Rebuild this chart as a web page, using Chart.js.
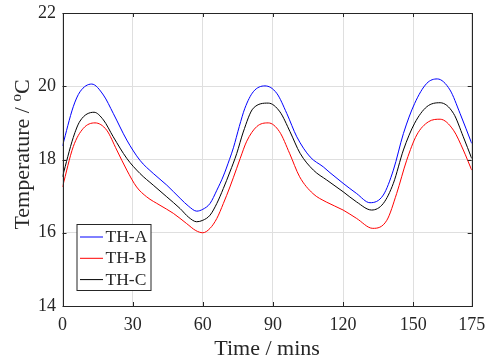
<!DOCTYPE html>
<html>
<head>
<meta charset="utf-8">
<script src="https://cdn.jsdelivr.net/npm/chart.js@4.4.0/dist/chart.umd.min.js"></script>
<style>
  html, body { margin: 0; padding: 0; background: #fff; }
</style>
</head>
<body>
<canvas id="chart" width="486" height="362"></canvas>
<script>
// time (mins) and temperature (degC)
const timeA = [0, 4.6, 7.5, 12.5, 17.5, 21.7, 27.5, 33.1, 38.8, 44.6, 50.3, 54, 57.4, 60, 63.1, 66, 68.8, 71.4, 73.1, 75.6, 78, 81.6, 86.6, 91.6, 95.9, 100.2, 105.9, 111.5, 114.4, 120, 125.8, 131.5, 137.2, 141.5, 145.8, 150.6, 155.8, 160.3, 165.7, 170, 175];
const tempA = [18.37, 19.44, 19.85, 20.06, 19.76, 19.26, 18.53, 17.98, 17.62, 17.30, 16.94, 16.72, 16.59, 16.64, 16.80, 17.16, 17.55, 18.0, 18.32, 18.9, 19.4, 19.85, 20.01, 19.81, 19.26, 18.62, 18.07, 17.80, 17.64, 17.35, 17.07, 16.82, 17.03, 17.71, 18.71, 19.53, 20.08, 20.20, 19.90, 19.26, 18.44];

const timeB = [0, 4.6, 8.9, 13.9, 18.9, 23.2, 27.5, 31.7, 36, 41.7, 47.4, 53.1, 57, 60, 63.1, 66, 68.8, 71.6, 74.5, 76, 78.8, 83.1, 88, 92.8, 97.1, 101.4, 107.1, 112.8, 120, 125.8, 132.7, 138.7, 142.9, 147.2, 151.5, 156.5, 161.5, 167.2, 171.4, 175];
const tempB = [17.25, 18.35, 18.85, 19.0, 18.8, 18.26, 17.71, 17.25, 16.98, 16.75, 16.53, 16.25, 16.06, 16.0, 16.12, 16.39, 16.80, 17.25, 17.76, 18.03, 18.5, 18.9, 19.0, 18.76, 18.17, 17.53, 17.07, 16.84, 16.62, 16.39, 16.12, 16.34, 17.07, 17.98, 18.67, 19.03, 19.1, 18.8, 18.26, 17.71];

const timeC = [0, 4.6, 7.5, 13.5, 17.5, 21.7, 27.5, 33.1, 38.8, 44.6, 50.3, 54, 57.4, 60, 63.1, 66, 68.8, 71.6, 74.5, 77.3, 81.6, 88, 93, 97.3, 101.6, 107.3, 113, 120, 125.8, 132.2, 137.2, 141.5, 145.8, 150.6, 155.8, 161.5, 167.2, 171.4, 175];
const tempC = [17.53, 18.6, 19.05, 19.29, 19.08, 18.62, 18.03, 17.62, 17.30, 16.98, 16.66, 16.42, 16.30, 16.34, 16.48, 16.80, 17.21, 17.66, 18.16, 18.75, 19.40, 19.54, 19.30, 18.76, 18.17, 17.71, 17.44, 17.12, 16.84, 16.62, 16.80, 17.35, 18.26, 18.99, 19.44, 19.55, 19.26, 18.62, 18.03];

const seriesNames = ["TH-A", "TH-B", "TH-C"];
const xTicks = [0, 30, 60, 90, 120, 150, 175];
const yTicks = [14, 16, 18, 20, 22];

const FONT = "'Liberation Serif', 'Times New Roman', serif";
const AXIS_COLOR = "#262626";

function toPoints(xs, ys) {
    return xs.map((x, i) => ({ x: x, y: ys[i] }));
}

// box + inward ticks, MATLAB style
const axesBox = {
    id: "axesBox",
    afterDatasetsDraw(chart) {
        const { ctx, chartArea: a, scales } = chart;
        const len = 4;
        ctx.save();
        ctx.strokeStyle = AXIS_COLOR;
        ctx.lineWidth = 1;
        ctx.beginPath();
        xTicks.forEach(v => {
            const px = Math.round(scales.x.getPixelForValue(v)) + 0.5;
            ctx.moveTo(px, a.bottom); ctx.lineTo(px, a.bottom - len);
            ctx.moveTo(px, a.top); ctx.lineTo(px, a.top + len);
        });
        yTicks.forEach(v => {
            const py = Math.round(scales.y.getPixelForValue(v)) + 0.5;
            ctx.moveTo(a.left, py); ctx.lineTo(a.left + len, py);
            ctx.moveTo(a.right, py); ctx.lineTo(a.right - len, py);
        });
        ctx.stroke();
        ctx.strokeRect(Math.round(a.left) + 0.5, Math.round(a.top) + 0.5,
            Math.round(a.right - a.left), Math.round(a.bottom - a.top));
        ctx.restore();
    }
};

// y title with superscript o
const yTitle = {
    id: "yTitle",
    afterDraw(chart) {
        const { ctx, chartArea: a } = chart;
        const big = "22px " + FONT;
        const small = "15px " + FONT;
        const parts = [["Temperature / ", big, 0], ["o", small, -8], ["C", big, 0]];
        ctx.save();
        let total = 0;
        parts.forEach(p => { ctx.font = p[1]; total += ctx.measureText(p[0]).width; });
        ctx.translate(29, (a.top + a.bottom) / 2 - 5);
        ctx.rotate(-Math.PI / 2);
        ctx.fillStyle = AXIS_COLOR;
        ctx.textBaseline = "alphabetic";
        let x = -total / 2;
        parts.forEach(p => {
            ctx.font = p[1];
            ctx.fillText(p[0], x, p[2]);
            x += ctx.measureText(p[0]).width;
        });
        ctx.restore();
    }
};

// boxed legend inside the axes, lower left
const boxLegend = {
    id: "boxLegend",
    afterDraw(chart) {
        const { ctx, chartArea: a } = chart;
        const left = a.left + 14.5, top = 224.5, w = 74, h = 66;
        ctx.save();
        ctx.fillStyle = "#fff";
        ctx.fillRect(left, top, w, h);
        ctx.strokeStyle = AXIS_COLOR;
        ctx.lineWidth = 1;
        ctx.strokeRect(left, top, w, h);
        ctx.font = "17.5px " + FONT;
        ctx.textBaseline = "middle";
        chart.data.datasets.forEach((ds, i) => {
            const y = top + 12.5 + i * 21.3;
            ctx.strokeStyle = ds.borderColor;
            ctx.beginPath();
            ctx.moveTo(left + 3, y); ctx.lineTo(left + 26, y);
            ctx.stroke();
            ctx.fillStyle = AXIS_COLOR;
            ctx.fillText(ds.label, left + 28.5, y + 0.5);
        });
        ctx.restore();
    }
};

new Chart(document.getElementById("chart"), {
    type: "line",
    data: {
        datasets: [
            { label: seriesNames[0], data: toPoints(timeA, tempA), borderColor: "#0000ff" },
            { label: seriesNames[1], data: toPoints(timeB, tempB), borderColor: "#ff0000" },
            { label: seriesNames[2], data: toPoints(timeC, tempC), borderColor: "#000000" }
        ]
    },
    options: {
        responsive: false,
        animation: false,
        layout: { padding: { left: 0, right: 14.3, top: 13, bottom: 0 } },
        elements: {
            point: { radius: 0 },
            line: { borderWidth: 1, cubicInterpolationMode: "monotone", fill: false }
        },
        plugins: {
            legend: { display: false },
            tooltip: { enabled: false }
        },
        scales: {
            x: {
                type: "linear",
                min: 0,
                max: 175,
                afterBuildTicks: s => { s.ticks = xTicks.map(v => ({ value: v })); },
                afterFit: s => { s.height = 56; s.paddingLeft = 0; s.paddingRight = 0; },
                grid: { color: "#dfdfdf", drawTicks: false },
                border: { display: false },
                ticks: {
                    font: { family: FONT, size: 18 },
                    color: AXIS_COLOR,
                    padding: 8,
                    maxRotation: 0,
                    autoSkip: false
                },
                title: {
                    display: true,
                    text: "Time / mins",
                    font: { family: FONT, size: 22 },
                    color: AXIS_COLOR,
                    padding: { top: 0, bottom: 0 }
                }
            },
            y: {
                min: 14,
                max: 22,
                afterBuildTicks: s => { s.ticks = yTicks.map(v => ({ value: v })); },
                afterFit: s => { s.width = 62.5; s.paddingTop = 0; s.paddingBottom = 0; },
                grid: { color: "#dfdfdf", drawTicks: false },
                border: { display: false },
                ticks: {
                    font: { family: FONT, size: 18 },
                    color: AXIS_COLOR,
                    padding: 6.5,
                    autoSkip: false
                }
            }
        }
    },
    plugins: [axesBox, yTitle, boxLegend]
});
</script>
</body>
</html>
